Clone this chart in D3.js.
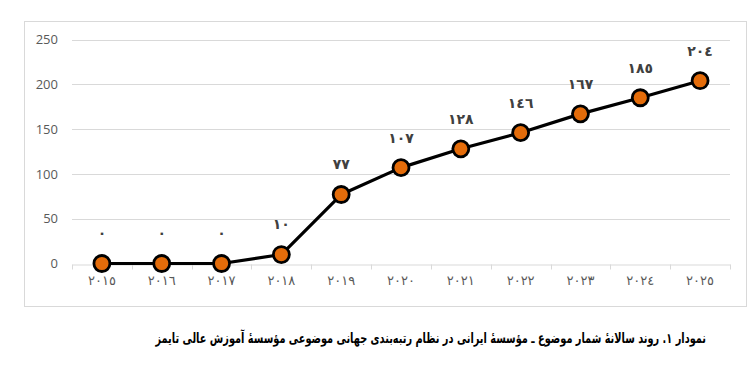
<!DOCTYPE html>
<html>
<head>
<meta charset="utf-8">
<script src="https://cdn.jsdelivr.net/npm/d3@7"></script>
<style>
  html, body { margin: 0; padding: 0; background: #fff; }
  svg { display: block; }
</style>
</head>
<body>
<svg id="chart" width="756" height="367"></svg>
<script>
const years = ["2015","2016","2017","2018","2019","2020","2021","2022","2023","2024","2025"];
const yearLabels = ["٢٠١٥","٢٠١٦","٢٠١٧","٢٠١٨","٢٠١٩","٢٠٢٠","٢٠٢١","٢٠٢٢","٢٠٢٣","٢٠٢٤","٢٠٢٥"];
const values = [0, 0, 0, 10, 77, 107, 128, 146, 167, 185, 204];
const valueLabels = ["٠","٠","٠","١٠","٧٧","١٠٧","١٢٨","١٤٦","١٦٧","١٨٥","٢٠٤"];
const yTicks = [0, 50, 100, 150, 200, 250];
const caption = "نمودار ١. روند سالانۀ شمار موضوع ـ مؤسسۀ ایرانی در نظام رتبه‌بندی جهانی موضوعی مؤسسۀ آموزش عالی تایمز";

(function () {
const svg = d3.select("#chart");

// outer frame
svg.append("rect")
  .attr("x", 24.5).attr("y", 21.5)
  .attr("width", 722).attr("height", 285)
  .attr("fill", "#fff").attr("stroke", "#d9d9d9").attr("stroke-width", 1);

const pLeft = 72, pRight = 730, pTop = 39.5, pBottom = 263.5;

const x = d3.scaleBand().domain(years).range([pLeft, pRight]).padding(0);
const y = d3.scaleLinear().domain([0, 250]).range([pBottom, pTop]);

// gridlines
svg.append("g")
  .selectAll("line")
  .data(yTicks.filter(d => d > 0))
  .join("line")
  .attr("x1", pLeft).attr("x2", pRight)
  .attr("y1", d => Math.round(y(d)) + 0.5).attr("y2", d => Math.round(y(d)) + 0.5)
  .attr("stroke", "#d9d9d9").attr("stroke-width", 1);

// y axis labels
const yAxis = d3.axisLeft(y).tickValues(yTicks).tickSize(0).tickPadding(0);
const gy = svg.append("g").attr("transform", `translate(${pLeft - 14},0)`).call(yAxis);
gy.select(".domain").remove();
gy.selectAll("text")
  .attr("font-family", "'Open Sans', 'Liberation Sans', sans-serif")
  .attr("font-size", 13)
  .attr("fill", "#595959");

// x axis
const xAxis = d3.axisBottom(x).tickSizeOuter(0).tickSize(0).tickFormat((d, i) => yearLabels[i]);
const gx = svg.append("g").attr("transform", `translate(0,${Math.round(pBottom) + 0.5})`).call(xAxis);
gx.select(".domain").attr("stroke", "#d9d9d9");
gx.selectAll("text")
  .attr("dy", "1.35em")
  .attr("font-family", "'DejaVu Sans', sans-serif")
  .attr("font-size", 13)
  .attr("letter-spacing", 1)
  .attr("fill", "#595959");

// tick marks at band boundaries
const boundaries = years.map(d => x(d)).concat([x(years[years.length - 1]) + x.bandwidth()]);
svg.append("g")
  .selectAll("line")
  .data(boundaries)
  .join("line")
  .attr("x1", d => Math.round(d) + 0.5).attr("x2", d => Math.round(d) + 0.5)
  .attr("y1", Math.round(pBottom) + 0.5).attr("y2", Math.round(pBottom) + 5.5)
  .attr("stroke", "#d9d9d9").attr("stroke-width", 1);

const cx = d => x(d) + x.bandwidth() / 2;

// line
const line = d3.line().x((d, i) => cx(years[i])).y(d => y(d));
svg.append("path")
  .datum(values)
  .attr("d", line)
  .attr("fill", "none")
  .attr("stroke", "#000")
  .attr("stroke-width", 3.2)
  .attr("stroke-linejoin", "round");

// markers
svg.append("g")
  .selectAll("circle")
  .data(values)
  .join("circle")
  .attr("cx", (d, i) => cx(years[i]))
  .attr("cy", d => y(d))
  .attr("r", 8)
  .attr("fill", "#e46c0a")
  .attr("stroke", "#000")
  .attr("stroke-width", 2.8);

// data labels
svg.append("g")
  .selectAll("text")
  .data(values)
  .join("text")
  .attr("x", (d, i) => cx(years[i]))
  .attr("y", d => y(d) - 30)
  .attr("dy", "0.35em")
  .attr("text-anchor", "middle")
  .attr("font-family", "'DejaVu Sans', sans-serif")
  .attr("font-weight", "bold")
  .attr("font-size", 14)
  .attr("letter-spacing", 1)
  .attr("fill", "#404040")
  .text((d, i) => valueLabels[i]);

// caption (horizontally condensed to match the narrow original face)
const capG = svg.append("g");
const cap = capG.append("text")
  .attr("x", 0)
  .attr("y", 0)
  .attr("text-anchor", "start")
  .attr("direction", "rtl")
  .attr("font-family", "'DejaVu Sans', sans-serif")
  .attr("font-weight", "bold")
  .attr("font-size", 14)
  .attr("fill", "#000")
  .text(caption);
const w = cap.node().getComputedTextLength();
const sx = w > 0 ? 551 / w : 1;
capG.attr("transform", `translate(706,343) scale(${sx},1)`);
})();
</script>
</body>
</html>
